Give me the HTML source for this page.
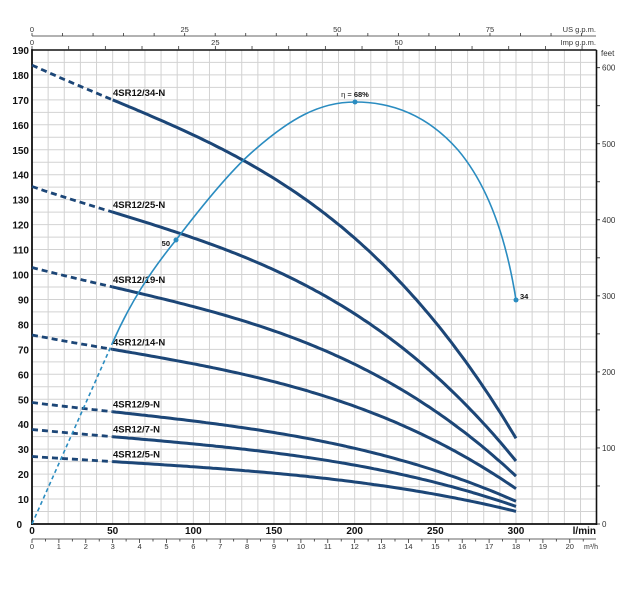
<!DOCTYPE html>
<html><head><meta charset="utf-8"><style>
html,body{margin:0;padding:0;background:#fff}
svg{display:block;font-family:"Liberation Sans",Arial,sans-serif}
</style></head><body>
<svg id="s" width="627" height="589" viewBox="0 0 627 589" xmlns="http://www.w3.org/2000/svg"></svg>
<script>
const s=document.getElementById('s');
const X0=32,PX=1.6133,Y0=524,PY=2.495;
const X=q=>X0+q*PX, Y=h=>Y0-h*PY;
let o='';
for(let q=10;q<350;q+=10){o+=`<line x1="${X(q)}" y1="50" x2="${X(q)}" y2="524" stroke="#d2d2d2" stroke-width="1"/>`;}
for(let h=5;h<190;h+=5){o+=`<line x1="32" y1="${Y(h)}" x2="596.5" y2="${Y(h)}" stroke="#d2d2d2" stroke-width="1"/>`;}
o+=`<line x1="32" y1="50" x2="596.5" y2="50" stroke="#111" stroke-width="1.6"/>`;
o+=`<line x1="32" y1="49" x2="32" y2="525" stroke="#111" stroke-width="1.8"/>`;
o+=`<line x1="31" y1="524" x2="597" y2="524" stroke="#111" stroke-width="1.8"/>`;
o+=`<line x1="596.5" y1="50" x2="596.5" y2="525" stroke="#111" stroke-width="1.6"/>`;
for(let h=0;h<=190;h+=10){o+=`<text x="${h==0?22:29}" y="${Y(h)+4}" text-anchor="end" font-size="10" font-weight="bold" fill="#111">${h}</text>`;}
for(let f=0;f<=600;f+=50){const y=Y(f/3.2808);o+=`<line x1="596.5" y1="${y}" x2="600" y2="${y}" stroke="#111" stroke-width="0.8"/>`;if(f%100==0)o+=`<text x="602" y="${y+3}" font-size="8" fill="#333">${f}</text>`;}
o+=`<text x="601" y="56" font-size="8" fill="#333">feet</text>`;
for(let q=0;q<=300;q+=50){o+=`<text x="${X(q)}" y="534" text-anchor="middle" font-size="10" font-weight="bold" fill="#111">${q}</text>`;}
o+=`<text x="596" y="534" text-anchor="end" font-size="10" font-weight="bold" fill="#111">l/min</text>`;
o+=`<line x1="32" y1="539" x2="596" y2="539" stroke="#333" stroke-width="0.8"/>`;
for(let m=0;m<=20.5;m+=0.5){const x=X(m*16.667);o+=`<line x1="${x}" y1="539" x2="${x}" y2="${m%1==0?543:541.5}" stroke="#333" stroke-width="0.8"/>`;if(m%1==0&&m<=20)o+=`<text x="${x}" y="549" text-anchor="middle" font-size="7.5" fill="#333">${m}</text>`;}
o+=`<text x="584" y="549" font-size="7" fill="#333">m³/h</text>`;
for(let g=0;g*4.546<=348;g+=5){const x=X(g*4.546);o+=`<line x1="${x}" y1="46" x2="${x}" y2="50" stroke="#333" stroke-width="0.8"/>`;if(g%25==0&&g<75)o+=`<text x="${x}" y="45" text-anchor="middle" font-size="7.5" fill="#333">${g}</text>`;}
o+=`<text x="596" y="45" text-anchor="end" font-size="7.5" fill="#333">Imp g.p.m.</text>`;
o+=`<line x1="32" y1="36" x2="596" y2="36" stroke="#333" stroke-width="0.8"/>`;
for(let g=0;g*3.785<=348;g+=5){const x=X(g*3.785);o+=`<line x1="${x}" y1="33" x2="${x}" y2="36" stroke="#333" stroke-width="0.8"/>`;if(g%25==0)o+=`<text x="${x}" y="32" text-anchor="middle" font-size="7.5" fill="#333">${g}</text>`;}
o+=`<text x="596" y="32" text-anchor="end" font-size="7.5" fill="#333">US g.p.m.</text>`;
const h=q=>5.41-0.008787*q+1.8e-5*q*q-1.2533e-7*q*q*q;
const col="#1c4677";
[34,25,19,14,9,7,5].forEach(n=>{
  let d='',sl='';
  for(let q=0;q<=50;q+=2)d+=(q?'L':'M')+X(q).toFixed(1)+','+Y(h(q)*n).toFixed(1);
  for(let q=50;q<=300;q+=2)sl+=(q>50?'L':'M')+X(q).toFixed(1)+','+Y(h(q)*n).toFixed(1);
  o+=`<path d="${d}" fill="none" stroke="${col}" stroke-width="2.8" stroke-dasharray="6,4"/>`;
  o+=`<path d="${sl}" fill="none" stroke="${col}" stroke-width="3"/>`;
  o+=`<text x="113" y="${Y(5.0*n)-4}" font-size="9.5" font-weight="bold" fill="#111">4SR12/${n}-N</text>`;
});
const E="#2a8cc0";
o+=`<path d="M32,524 L112,344" fill="none" stroke="${E}" stroke-width="1.6" stroke-dasharray="4,3"/>`;
o+=`<path d="M112,344 C130,303 150,272 176,240 C205,202 230,172 250,154 C290,118 320,102 355,102 C395,102 430,118 458,150 C485,182 505,230 516,300" fill="none" stroke="${E}" stroke-width="1.6"/>`;
o+=`<circle cx="176" cy="240" r="2.5" fill="${E}"/><circle cx="355" cy="102" r="2.5" fill="${E}"/><circle cx="516" cy="300" r="2.5" fill="${E}"/>`;
o+=`<text x="170" y="246" text-anchor="end" font-size="7.5" font-weight="bold" fill="#111">50</text>`;
o+=`<text x="520" y="299" font-size="7.5" font-weight="bold" fill="#111">34</text>`;
o+=`<text x="355" y="97" text-anchor="middle" font-size="7.5" fill="#111">η = <tspan font-weight="bold">68%</tspan></text>`;
s.innerHTML=o;
</script>
</body></html>
